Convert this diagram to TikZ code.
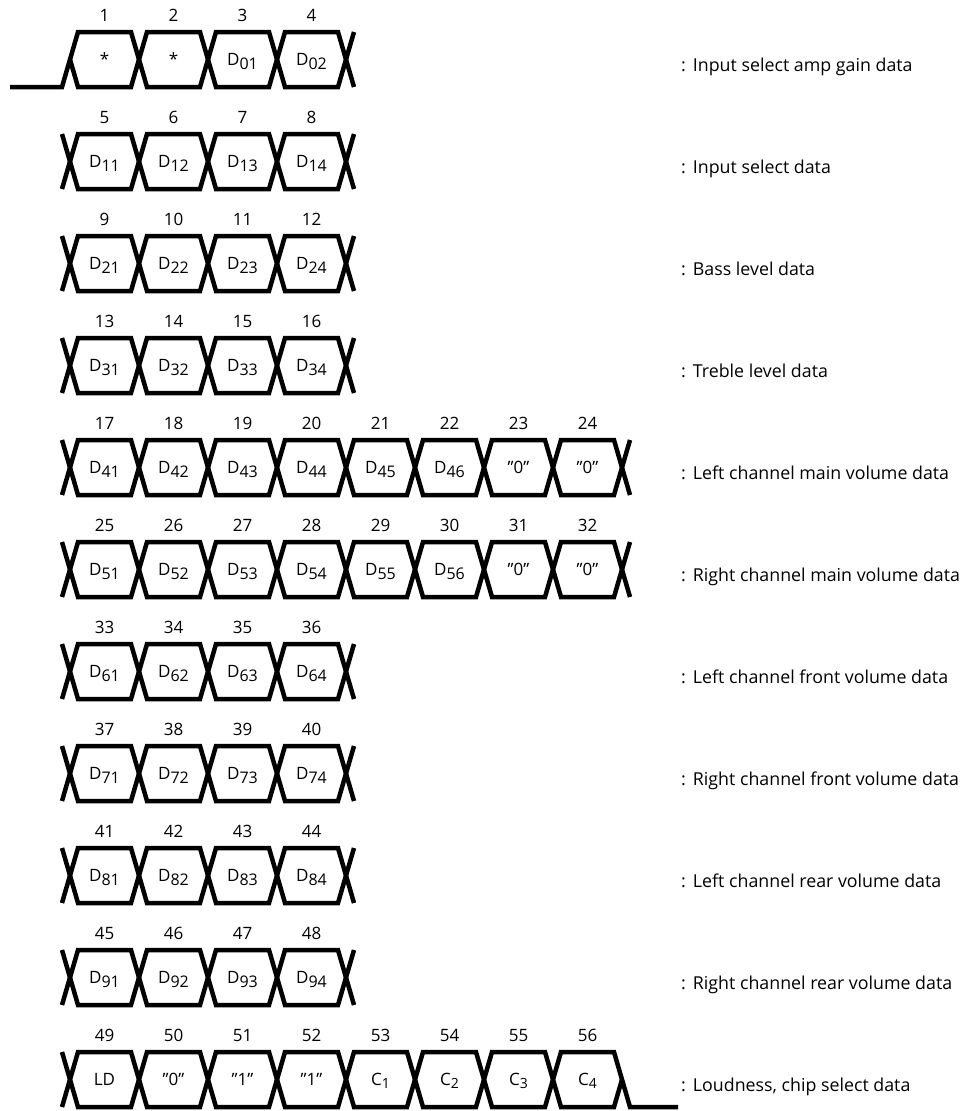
\documentclass[tikz,border=0pt]{standalone}
\usepackage{fontspec}
\setmainfont{Open Sans}
\newcommand\Ds[1]{D\raisebox{-4pt}{\fontsize{16}{18}\selectfont #1}}
\newcommand\Cs[1]{C\raisebox{-3.5pt}{\fontsize{14}{16}\selectfont #1}}
\tikzset{
  sig/.style={line width=4.5pt, line join=miter, line cap=butt},
  cell/.style={anchor=base, inner sep=0pt, font=\fontsize{17}{20}\selectfont},
  num/.style={anchor=base, inner sep=0pt, font=\fontsize{17}{20}\selectfont},
  lab/.style={anchor=base west, inner sep=0pt, font=\fontsize{17.8}{21}\selectfont},
}
% #1 row, #2 last crossing index, #3 mode (0 full, 1 start low, 2 end low), #4 first number, #5 contents, #6 label
\newcommand\tdrow[6]{%
  \pgfmathsetmacro\yt{32+102*#1}%
  \pgfmathsetmacro\yb{\yt+55}%
  \pgfmathsetmacro\ym{\yt+27.5}%
  \pgfmathtruncatemacro\nm{#2-1}%
  \pgfmathsetmacro\xnl{62+69*#2}%
  \pgfmathsetmacro\xnr{78+69*#2}%
  \pgfmathsetmacro\xn{70+69*#2}%
  \ifnum#3=1
    \draw[sig] (70,\ym) -- (78,\yb)
      \foreach \i [evaluate={\i as \xl using 62+69*\i}, evaluate={\i as \xr using 78+69*\i},
                   evaluate={\i as \ya using \yt+55*mod(\i,2)}, evaluate={\i as \yc using \yb-55*mod(\i,2)}]
        in {1,...,\nm} { -- (\xl,\ya) -- (\xr,\yc) }
      -- (\xnl,\yt) -- (\xnr,\yb);
    \draw[sig] (10,\yb) -- (62,\yb) -- (78,\yt)
      \foreach \i [evaluate={\i as \xl using 62+69*\i}, evaluate={\i as \xr using 78+69*\i},
                   evaluate={\i as \ya using \yt+55*mod(\i,2)}, evaluate={\i as \yc using \yb-55*mod(\i,2)}]
        in {1,...,\nm} { -- (\xl,\yc) -- (\xr,\ya) }
      -- (\xnl,\yb) -- (\xnr,\yt);
  \else\ifnum#3=2
    \draw[sig] (62,\yt) -- (78,\yb)
      \foreach \i [evaluate={\i as \xl using 62+69*\i}, evaluate={\i as \xr using 78+69*\i},
                   evaluate={\i as \ya using \yt+55*mod(\i,2)}, evaluate={\i as \yc using \yb-55*mod(\i,2)}]
        in {1,...,\nm} { -- (\xl,\ya) -- (\xr,\yc) }
      -- (\xnl,\yt) -- (\xnr,\yb) -- (678,\yb);
    \draw[sig] (62,\yb) -- (78,\yt)
      \foreach \i [evaluate={\i as \xl using 62+69*\i}, evaluate={\i as \xr using 78+69*\i},
                   evaluate={\i as \ya using \yt+55*mod(\i,2)}, evaluate={\i as \yc using \yb-55*mod(\i,2)}]
        in {1,...,\nm} { -- (\xl,\yc) -- (\xr,\ya) }
      -- (\xnl,\yb) -- (\xn,\ym);
  \else
    \draw[sig] (62,\yt) -- (78,\yb)
      \foreach \i [evaluate={\i as \xl using 62+69*\i}, evaluate={\i as \xr using 78+69*\i},
                   evaluate={\i as \ya using \yt+55*mod(\i,2)}, evaluate={\i as \yc using \yb-55*mod(\i,2)}]
        in {1,...,\nm} { -- (\xl,\ya) -- (\xr,\yc) }
      -- (\xnl,\yt) -- (\xnr,\yb);
    \draw[sig] (62,\yb) -- (78,\yt)
      \foreach \i [evaluate={\i as \xl using 62+69*\i}, evaluate={\i as \xr using 78+69*\i},
                   evaluate={\i as \ya using \yt+55*mod(\i,2)}, evaluate={\i as \yc using \yb-55*mod(\i,2)}]
        in {1,...,\nm} { -- (\xl,\yc) -- (\xr,\ya) }
      -- (\xnl,\yb) -- (\xnr,\yt);
  \fi\fi
  \foreach \t [count=\c from 0] in {#5} {%
    \pgfmathtruncatemacro\nn{#4+\c}%
    \node[cell] (c#1-\c) at ({104.5+69*\c},\ym+5.5) {\t};
    \node[num] (n#1-\c) at ({104.5+69*\c},\yt-10.5) {\nn};
  }
  \node[lab] (l#1) at (681,\ym+12) {:\hspace{7pt}#6};
}
\begin{document}
\begin{tikzpicture}[x=1pt,y=-1pt]
\useasboundingbox (0,0) rectangle (973,1111);
\tdrow{0}{4}{1}{1}{{*},{*},{\Ds{01}},{\Ds{02}}}{Input select amp gain data}
\tdrow{1}{4}{0}{5}{{\Ds{11}},{\Ds{12}},{\Ds{13}},{\Ds{14}}}{Input select data}
\tdrow{2}{4}{0}{9}{{\Ds{21}},{\Ds{22}},{\Ds{23}},{\Ds{24}}}{Bass level data}
\tdrow{3}{4}{0}{13}{{\Ds{31}},{\Ds{32}},{\Ds{33}},{\Ds{34}}}{Treble level data}
\tdrow{4}{8}{0}{17}{{\Ds{41}},{\Ds{42}},{\Ds{43}},{\Ds{44}},{\Ds{45}},{\Ds{46}},{”0”},{”0”}}{Left channel main volume data}
\tdrow{5}{8}{0}{25}{{\Ds{51}},{\Ds{52}},{\Ds{53}},{\Ds{54}},{\Ds{55}},{\Ds{56}},{”0”},{”0”}}{Right channel main volume data}
\tdrow{6}{4}{0}{33}{{\Ds{61}},{\Ds{62}},{\Ds{63}},{\Ds{64}}}{Left channel front volume data}
\tdrow{7}{4}{0}{37}{{\Ds{71}},{\Ds{72}},{\Ds{73}},{\Ds{74}}}{Right channel front volume data}
\tdrow{8}{4}{0}{41}{{\Ds{81}},{\Ds{82}},{\Ds{83}},{\Ds{84}}}{Left channel rear volume data}
\tdrow{9}{4}{0}{45}{{\Ds{91}},{\Ds{92}},{\Ds{93}},{\Ds{94}}}{Right channel rear volume data}
\tdrow{10}{8}{2}{49}{{LD},{”0”},{”1”},{”1”},{\Cs{1}},{\Cs{2}},{\Cs{3}},{\Cs{4}}}{Loudness, chip select data}
\end{tikzpicture}
\end{document}
